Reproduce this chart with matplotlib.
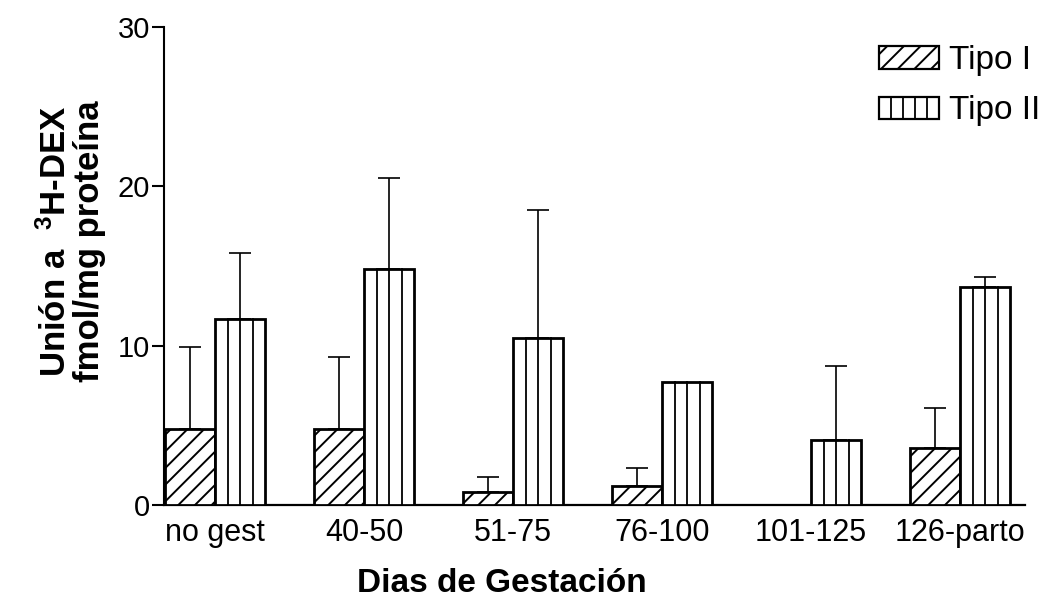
import numpy as np
import matplotlib
matplotlib.use("Agg")
import matplotlib.pyplot as plt
from matplotlib.patches import Rectangle, Patch
from matplotlib.lines import Line2D
from matplotlib.legend_handler import HandlerBase

plt.rcParams['font.family'] = ['Liberation Sans', 'DejaVu Sans']
plt.rcParams['mathtext.fontset'] = 'custom'
plt.rcParams['mathtext.rm'] = 'Liberation Sans'
plt.rcParams['mathtext.bf'] = 'Liberation Sans:bold'
plt.rcParams['hatch.linewidth'] = 1.4

# grupos de gestacion
grupos = ["no gest", "40-50", "51-75", "76-100", "101-125", "126-parto"]

# union media (fmol/mg proteina) y limite superior del error
tipo1 = [4.8, 4.8, 0.8, 1.2, 0.0, 3.6]
tipo1_sup = [9.9, 9.3, 1.75, 2.3, np.nan, 6.1]
tipo2 = [11.7, 14.8, 10.5, 7.7, 4.1, 13.7]
tipo2_sup = [15.8, 20.5, 18.5, np.nan, 8.7, 14.3]


class HandlerVertical(HandlerBase):
    # rectangulo con divisiones verticales, igual que las barras tipo II
    def create_artists(self, legend, orig, xd, yd, w, h, fontsize, trans):
        arts = [Rectangle((xd, yd), w, h, facecolor='white', edgecolor='black',
                          lw=1.6, transform=trans)]
        for k in range(1, 5):
            arts.append(Line2D([xd + w * k / 5.0] * 2, [yd, yd + h], color='black',
                               lw=1.3, transform=trans))
        return arts


fig = plt.figure(figsize=(10.61, 6.03), dpi=100)
ax = fig.add_axes([0.1546, 0.1625, 0.8115, 0.7927])

x = np.arange(len(grupos))
w = 0.336
x1 = x - 0.17
x2 = x + 0.17

ax.bar(x1, tipo1, width=w, facecolor='white', edgecolor='black', linewidth=2.0,
       hatch='//', zorder=3)
ax.bar(x2, tipo2, width=w, facecolor='white', edgecolor='black', linewidth=2.0,
       zorder=3)

# divisiones internas de las barras tipo II
for xi, hi in zip(x2, tipo2):
    for k in (-1, 0, 1):
        ax.plot([xi + k * w / 4] * 2, [0, hi], color='black', lw=1.3, zorder=4)

# barras de error (solo hacia arriba)
for xs, vals, sups in [(x1, tipo1, tipo1_sup), (x2, tipo2, tipo2_sup)]:
    vals = np.array(vals)
    sups = np.array(sups)
    ok = ~np.isnan(sups)
    err = sups[ok] - vals[ok]
    ax.errorbar(xs[ok], vals[ok], yerr=[np.zeros_like(err), err], fmt='none',
                ecolor='black', elinewidth=1.2, capsize=8.0, capthick=1.2, zorder=2)

ax.set_xlim(-0.342, 5.436)
ax.set_ylim(0, 30)
ax.set_yticks([0, 10, 20, 30])
ax.set_xticks(x)
ax.set_xticklabels(grupos, fontsize=22)
ax.tick_params(axis='y', direction='out', length=9, width=1.5, labelsize=21, pad=1)
ax.tick_params(axis='x', length=0, pad=9)

for s in ['top', 'right']:
    ax.spines[s].set_visible(False)
ax.spines['left'].set_linewidth(1.5)
ax.spines['bottom'].set_linewidth(1.6)
ax.spines['left'].set_bounds(0, 30)

fig.text(0.068, 0.60, u"Uni\u00f3n a  $\\mathbf{^{3}}$H-DEX\nfmol/mg prote\u00edna",
         rotation=90, ha='center', va='center', fontsize=25, fontweight='bold',
         linespacing=1.0)
fig.text(502 / 1061.0, 1 - 583 / 603.0, u"Dias de Gestaci\u00f3n",
         ha='center', va='center', fontsize=24, fontweight='bold')

h1 = Patch(facecolor='white', edgecolor='black', hatch='//', lw=1.6)
h2 = Patch(facecolor='white', edgecolor='black')
fig.legend([h1, h2], ["Tipo I", "Tipo II"], loc='upper left',
           bbox_to_anchor=(0.8285, 0.925), frameon=False, fontsize=24,
           handlelength=1.8, handleheight=0.65, handletextpad=0.3,
           labelspacing=0.55, borderpad=0, borderaxespad=0,
           handler_map={h2: HandlerVertical()})

fig.savefig("out.png", dpi=100)
